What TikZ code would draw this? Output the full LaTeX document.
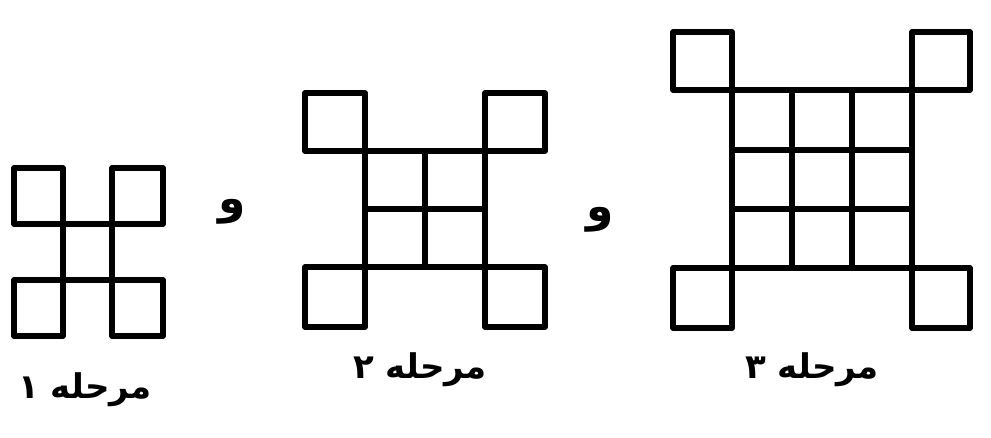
\documentclass[tikz,border=0pt]{standalone}
\usepackage{fontspec}
\TeXXeTstate=1
\newfontfamily\arabicfont[Script=Arabic]{DejaVu Sans}
\begin{document}
\begin{tikzpicture}[x=1pt,y=-1pt,
  sq/.style={line width=5.5pt, line join=round, line cap=round},
  lbl/.style={font=\arabicfont\bfseries\fontsize{34}{40}\selectfont, inner sep=0pt},
  andw/.style={font=\arabicfont\bfseries\fontsize{44}{50}\selectfont, inner sep=0pt}]
\useasboundingbox (0,0) rectangle (991,437);
% Stage 1
\draw[sq] (14,168) rectangle (63,224);
\draw[sq] (112,168) rectangle (163,224);
\draw[sq] (63,224) rectangle (112,280);
\draw[sq] (14,280) rectangle (63,336);
\draw[sq] (112,280) rectangle (163,336);
% Stage 2
\draw[sq] (305,93) rectangle (365,151);
\draw[sq] (485,93) rectangle (545,151);
\draw[sq] (365,151) rectangle (485,267);
\draw[sq] (365,209) -- (485,209) (425,151) -- (425,267);
\draw[sq] (305,267) rectangle (365,327);
\draw[sq] (485,267) rectangle (545,327);
% Stage 3
\draw[sq] (673,32) rectangle (732,90);
\draw[sq] (912,32) rectangle (970,90);
\draw[sq] (732,90) rectangle (912,268);
\draw[sq] (732,150) -- (912,150) (732,209) -- (912,209);
\draw[sq] (792,90) -- (792,268) (852,90) -- (852,268);
\draw[sq] (673,268) rectangle (732,328);
\draw[sq] (912,268) rectangle (970,328);
% "and" words
\node[andw] (w1) at (232,212) {\beginR و\endR};
\node[andw] (w2) at (600,220) {\beginR و\endR};
% labels
\node[lbl] (l1) at (85,390) {\beginR مرحله ۱\endR};
\node[lbl] (l2) at (420,370) {\beginR مرحله ۲\endR};
\node[lbl] (l3) at (812,370) {\beginR مرحله ۳\endR};
\end{tikzpicture}
\end{document}
